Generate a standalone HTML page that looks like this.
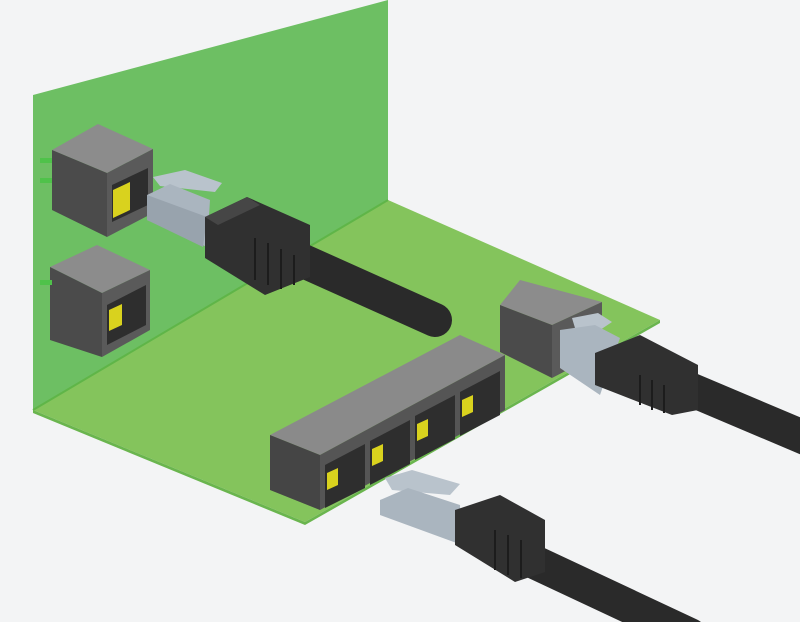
<!DOCTYPE html>
<html><head><meta charset="utf-8"><style>html,body{margin:0;padding:0;background:#f3f4f5}svg{display:block}</style></head><body>
<svg width="800" height="622" viewBox="0 0 800 622" xmlns="http://www.w3.org/2000/svg">
<rect width="800" height="622" fill="#f3f4f5"/>
<!-- vertical panel -->
<polygon points="33,95 388,0 388,200 33,410" fill="#6dbf63"/>
<!-- board -->
<polygon points="33,410 388,200 660,320 305,522" fill="#84c45c"/>
<line x1="33" y1="410" x2="388" y2="200" stroke="#5fb548" stroke-width="2"/>
<polygon points="33,410 305,522 305,525 33,413" fill="#6ab54e"/>
<polygon points="305,522 660,320 660,323 305,525" fill="#6ab54e"/>
<!-- upper jack -->
<polygon points="52,150 98,124 153,149 107,173" fill="#8c8c8c"/>
<polygon points="52,150 107,173 107,237 52,210" fill="#4b4b4b"/>
<polygon points="107,173 153,149 153,213 107,237" fill="#5a5a5a"/>
<polygon points="112,185 148,168 148,205 112,222" fill="#2e2e2e"/>
<polygon points="113,190 130,182 130,210 113,218" fill="#d9d21e"/>
<rect x="40" y="158" width="12" height="5" fill="#4fc24a"/>
<rect x="40" y="178" width="12" height="5" fill="#4fc24a"/>
<!-- lower jack -->
<polygon points="50,267 97,245 150,270 102,293" fill="#8c8c8c"/>
<polygon points="50,267 102,293 102,357 50,340" fill="#4b4b4b"/>
<polygon points="102,293 150,270 150,330 102,357" fill="#5a5a5a"/>
<polygon points="107,305 146,285 146,325 107,345" fill="#2e2e2e"/>
<polygon points="109,310 122,304 122,325 109,331" fill="#d9d21e"/>
<rect x="40" y="280" width="12" height="5" fill="#4fc24a"/>
<!-- cable 1 -->
<line x1="290" y1="255" x2="435" y2="320" stroke="#2a2a2a" stroke-width="34" stroke-linecap="round"/>
<!-- plug 1 -->
<polygon points="153,177 185,170 222,183 215,192 160,186" fill="#b9c3cc"/>
<polygon points="147,195 170,184 210,200 207,247 147,220" fill="#aab5bf"/>
<polygon points="147,195 207,217 203,247 147,220" fill="#98a3ad"/>
<polygon points="205,217 247,197 310,225 310,277 265,295 205,258" fill="#303030"/>
<polygon points="205,217 247,197 260,205 218,225" fill="#464646"/>
<g stroke="#1c1c1c" stroke-width="2"><line x1="255" y1="238" x2="255" y2="280"/><line x1="268" y1="243" x2="268" y2="285"/><line x1="281" y1="249" x2="281" y2="289"/><line x1="294" y1="255" x2="294" y2="285"/></g>
<!-- right jack -->
<polygon points="500,305 520,280 602,302 552,325" fill="#8c8c8c"/>
<polygon points="500,305 552,325 552,378 500,352" fill="#4b4b4b"/>
<polygon points="552,325 602,302 602,352 552,378" fill="#5a5a5a"/>
<!-- cable 2 -->
<line x1="680" y1="385" x2="810" y2="440" stroke="#2a2a2a" stroke-width="34"/>
<!-- plug 2 -->
<polygon points="572,318 598,313 612,322 600,330 575,328" fill="#b9c3cc"/>
<polygon points="560,330 595,325 620,338 600,395 560,368" fill="#aab5bf"/>
<polygon points="595,353 640,335 698,365 698,410 672,415 595,385" fill="#303030"/>
<g stroke="#1c1c1c" stroke-width="2"><line x1="640" y1="375" x2="640" y2="405"/><line x1="652" y1="380" x2="652" y2="410"/><line x1="664" y1="385" x2="664" y2="413"/></g>
<!-- 4 port -->
<polygon points="270,435 460,335 505,355 320,455" fill="#8a8a8a"/>
<polygon points="270,435 320,455 320,510 270,490" fill="#454545"/>
<polygon points="320,455 505,355 505,410 320,510" fill="#555555"/>
<g fill="#2e2e2e">
<polygon points="325,465 365,444 365,488 325,508"/>
<polygon points="370,441 410,420 410,464 370,485"/>
<polygon points="415,416 455,395 455,439 415,460"/>
<polygon points="460,392 500,371 500,415 460,436"/>
</g>
<g fill="#d9d21e">
<polygon points="327,473 338,468 338,485 327,490"/>
<polygon points="372,449 383,444 383,461 372,466"/>
<polygon points="417,424 428,419 428,436 417,441"/>
<polygon points="462,400 473,395 473,412 462,417"/>
</g>
<!-- cable 3 -->
<line x1="530" y1="560" x2="690" y2="635" stroke="#2a2a2a" stroke-width="34" stroke-linecap="round"/>
<!-- plug 3 -->
<polygon points="385,478 412,470 460,484 450,495 392,490" fill="#b9c3cc"/>
<polygon points="380,500 408,488 460,505 462,545 380,515" fill="#aab5bf"/>
<polygon points="455,510 500,495 545,520 545,572 515,582 455,545" fill="#303030"/>
<g stroke="#1c1c1c" stroke-width="2"><line x1="495" y1="530" x2="495" y2="570"/><line x1="508" y1="535" x2="508" y2="575"/><line x1="521" y1="540" x2="521" y2="578"/></g>
</svg>
</body></html>
